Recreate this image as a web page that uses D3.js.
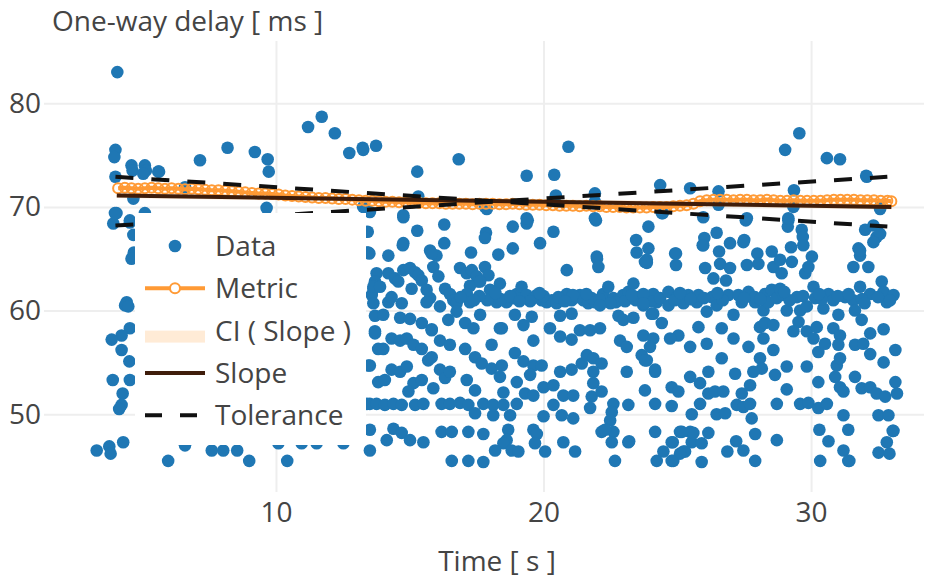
<!DOCTYPE html>
<html>
<head>
<meta charset="utf-8">
<script src="https://cdn.jsdelivr.net/npm/d3@7"></script>
<style>
  body { margin: 0; background: #fff; }
  text { font-family: "Open Sans", sans-serif; }
</style>
</head>
<body>
<div id="chart"></div>
<script>
// measured delay samples [time s, delay ms]
var samples = [
  [4.07,83.0],[4.0,75.5],[3.96,74.8],[4.0,72.9],[4.6,74.0],[4.64,73.5],[5.1,74.0],[5.14,73.5],[5.63,73.4],[7.16,74.5],
  [8.19,75.7],[9.21,75.3],[9.69,74.6],[9.73,73.4],[9.65,69.9],[4.67,70.8],[4.04,69.4],[3.92,68.4],[4.54,68.5],[4.67,67.3],
  [5.1,69.4],[4.69,65.6],[11.2,77.7],[11.71,78.7],[12.2,77.1],[12.74,75.2],[13.24,75.7],[13.26,75.5],[13.74,75.9],[13.43,67.6],
  [13.45,65.6],[13.26,70.0],[15.28,73.4],[16.83,74.6],[19.37,73.0],[20.4,73.1],[20.93,75.8],[20.46,71.1],[21.92,71.3],[24.36,72.1],
  [13.39,69.7],[13.33,67.6],[14.76,69.0],[15.28,67.7],[16.29,68.3],[17.81,70.0],[17.85,67.5],[17.81,67.0],[18.85,68.1],[19.37,68.4],
  [19.41,68.7],[19.87,66.5],[20.37,67.6],[21.96,68.7],[23.92,68.1],[23.46,66.8],[23.48,65.6],[23.92,66.0],[14.76,66.5],[14.74,66.3],
  [16.29,66.5],[15.76,65.8],[16.0,65.3],[17.29,65.6],[18.31,65.4],[18.85,66.0],[13.4,65.6],[14.2,65.3],[21.99,65.2],[23.86,64.9],
  [29.56,77.1],[29.03,75.5],[30.59,74.7],[31.08,74.6],[32.06,73.0],[25.48,71.8],[26.54,71.5],[29.36,71.6],[32.58,69.8],[24.42,69.4],
  [25.97,69.0],[27.56,68.7],[29.15,68.7],[29.13,68.1],[29.65,67.8],[29.69,67.1],[29.71,66.3],[32.02,67.8],[32.33,68.2],[32.45,67.1],
  [32.58,67.4],[26.47,67.5],[26.01,67.0],[25.95,66.3],[26.97,66.5],[27.5,66.8],[29.25,66.1],[24.92,65.5],[27.99,65.5],[28.53,65.7],
  [31.77,66.0],[31.83,65.3],[30.03,65.2],[5.04,73.2],[5.6,73.4],[6.6,71.9],[3.98,69.4],[4.54,68.7],[13.51,69.5],[14.76,69.2],
  [15.32,71.0],[17.88,69.8],[19.37,68.9],[21.92,70.5],[21.92,68.9],[24.46,69.4],[26.54,70.2],[27.6,68.9],[29.34,70.0],[29.15,68.9],
  [32.08,72.9],[32.58,70.0],
  [4.67,65.3],[4.6,65.0],[4.42,60.8],[4.36,60.5],[4.48,60.4],[4.54,58.3],[4.23,57.6],[3.86,57.2],[4.23,56.2],[4.52,55.1],
  [3.9,53.3],[4.54,53.3],[4.27,52.0],[4.23,50.9],[4.14,50.5],[3.3,46.5],[3.77,46.9],[3.82,46.2],[4.29,47.3],[5.97,45.5],
  [6.6,47.0],[7.6,46.5],[8.03,46.5],[8.55,46.5],[9.0,45.5],[10.42,45.5],[10.09,47.2],[10.96,47.2],[11.52,47.2],[12.52,47.2],
  [6.2,62.0],[7.4,58.5],[8.8,55.0],[10.5,60.5],[11.8,52.0],[12.4,63.5],
  [13.49,65.5],[13.76,63.6],[13.7,62.8],[13.64,62.1],[13.58,61.5],[13.64,60.7],[13.7,59.5],[13.7,58.0],[13.82,56.3],[13.51,54.7],
  [13.82,53.1],[13.51,51.0],[13.51,48.5],[13.51,46.5],
  [22.0,65.0],[22.05,64.2],[23.86,64.6],[20.87,63.9],[13.64,62.3],[14.01,59.6],[14.2,63.6],[14.45,63.1],[14.57,62.8],[14.76,63.9],
  [15.01,64.1],[15.2,63.7],[15.32,63.4],[15.45,62.9],[15.82,65.5],[15.88,64.2],[16.07,63.3],[15.07,62.1],[15.63,62.0],[15.76,61.2],
  [15.63,60.8],[14.7,60.7],[14.2,60.8],[14.32,61.3],[13.89,62.3],[16.32,62.1],[16.5,61.6],[16.63,61.0],[16.75,60.7],[16.88,64.1],
  [17.13,63.6],[17.32,63.9],[17.5,63.3],[17.56,62.8],[17.25,62.4],[17.13,61.6],[17.25,60.8],[17.81,64.2],[17.94,63.4],[17.63,62.8],
  [18.0,62.0],[18.06,61.2],[18.25,60.8],[18.37,62.6],[18.62,60.8],[18.87,61.2],[19.0,61.6],[19.18,62.3],[19.37,61.5],[19.62,61.2],
  [19.75,61.5],[19.93,61.0],[20.12,60.8],[20.31,61.0],[20.49,60.7],[20.68,61.2],[20.87,61.6],[21.05,61.0],[21.24,61.3],[21.36,61.5],
  [21.49,61.0],[21.67,60.7],[21.92,60.8],[22.23,61.6],[22.42,62.3],[22.61,61.2],[22.8,61.0],[22.98,61.5],[23.17,61.8],[23.36,62.6],
  [23.54,61.3],[23.73,61.2],[23.92,61.3],[24.1,61.6],[24.23,60.8],[18.4,61.1],[18.75,61.4],[19.5,60.9],[20.0,61.4],[20.55,61.3],
  [21.1,61.5],[21.8,61.2],[22.1,61.1],[22.7,60.8],[23.05,60.9],[23.45,61.0],[17.9,61.0],[17.6,61.4],
  [18.2,61.7],[19.1,60.9],[19.85,61.7],[20.8,60.9],[21.6,61.6],[22.5,60.7],[23.3,61.5],[24.0,60.9],[16.9,61.3],[17.4,61.0],
  [22.11,60.5],[20.62,59.5],[21.05,59.7],[22.8,59.5],[22.98,59.1],[23.36,59.3],[23.73,60.5],[24.04,59.7],
  [14.64,59.3],[15.01,59.2],[15.45,58.8],[15.82,58.2],[16.13,60.4],[16.44,59.1],[16.75,59.9],[17.07,58.8],[17.38,58.3],[17.63,59.6],
  [18.37,58.3],[18.93,59.6],[19.25,58.6],[19.56,59.4],[19.62,57.1],[20.24,58.3],[20.62,57.5],[21.05,57.2],[21.36,58.1],[21.74,58.1],
  [22.11,58.3],[22.86,57.1],[23.11,56.5],[23.73,57.6],[24.1,57.3],[23.67,55.7],[23.86,55.2],
  [13.7,57.8],[14.01,56.3],[14.32,57.3],[14.64,57.1],[14.89,57.3],[15.14,56.7],[15.45,56.3],
  [15.82,58.1],[16.13,57.1],[16.5,56.7],[17.07,56.3],[17.44,55.5],[17.69,54.9],[18.06,56.7],[18.44,58.3],[18.93,55.9],[19.25,55.1],
  [19.62,54.7],[19.93,54.7],[19.5,53.8],
  [15.69,55.2],[15.82,55.5],[13.45,54.7],[14.32,54.3],[14.64,54.1],[14.89,54.6],[14.07,53.3],[15.14,53.0],[15.45,53.3],[14.95,52.2],
  [15.88,52.5],[16.13,54.3],[16.32,53.5],[16.5,54.1],[17.13,53.3],[17.44,52.3],[18.06,54.4],[18.44,54.7],[18.37,53.6],[19.0,53.1],
  [18.5,52.1],[19.31,52.0],[19.62,51.8],[20.0,52.6],[20.37,52.8],[20.62,54.1],[21.05,54.3],[20.74,51.8],[21.11,51.8],[21.43,54.9],
  [21.62,55.7],[21.86,55.4],[22.17,54.9],[21.86,54.1],[21.86,53.0],[21.8,51.7],[22.17,52.2],[22.61,51.0],[22.55,50.2],[22.49,49.4],
  [22.61,48.3],[23.11,54.1],[23.79,52.3],[24.17,54.1],[23.17,50.9],[24.17,51.0],
  [13.4,51.0],[13.76,51.0],[14.07,50.9],[14.39,51.0],[14.7,50.9],[15.2,50.9],[15.51,51.0],[16.19,51.0],[16.5,51.0],[16.88,51.1],
  [17.19,50.9],[17.75,51.0],[18.12,50.9],[18.5,50.9],[19.0,51.0],
  [17.44,50.1],[18.12,49.9],[18.75,49.9],[20.0,49.8],[20.37,50.9],[20.68,49.9],[21.11,49.6],[21.74,50.6],
  [14.39,48.6],[14.7,48.2],[15.01,47.5],[15.51,47.3],[14.14,47.5],[16.19,48.3],[16.57,48.3],[17.19,48.3],[17.75,48.1],[18.68,48.5],
  [18.62,47.5],[18.5,47.2],[18.81,46.5],[19.06,46.4],[18.19,46.5],[19.62,48.5],[19.75,48.1],[19.68,47.2],[20.06,46.4],[20.74,47.3],
  [21.18,46.4],[22.17,48.3],[22.55,47.3],[23.17,47.3],[22.67,45.5],[24.17,48.3],[24.23,45.5],[16.57,45.5],[17.19,45.5],[17.75,45.4],
  [22.3,48.5],[23.2,47.4],[24.83,47.3],[24.48,46.4],[24.85,45.5],[25.1,48.3],[25.48,48.3],[25.23,46.4],[25.54,47.3],[25.91,47.2],
  [26.16,48.2],[25.91,45.4],[26.87,46.4],[27.2,47.4],[27.47,46.5],[27.91,48.1],[27.91,45.5],[28.72,47.5],[30.31,48.5],[30.65,47.4],
  [30.34,45.5],[31.39,48.5],[31.21,46.5],[31.43,45.5],[33.05,48.4],[32.83,47.3],[32.52,46.3],[32.93,46.2],
  [25.97,66.3],[27.47,66.6],[23.79,64.7],[24.95,65.5],[24.95,64.4],[26.56,65.7],[26.04,64.1],[26.6,64.5],[26.97,64.1],[26.35,63.1],
  [26.82,62.9],[27.6,64.4],[28.03,64.5],[28.59,64.2],[28.84,64.9],[28.9,63.6],[29.28,64.7],[29.78,63.6],[29.9,64.2],[31.58,64.2],
  [31.83,65.8],[32.14,64.2],[32.33,66.6],[32.64,62.8],
  [23.73,61.6],[23.73,60.7],[24.1,59.7],[24.36,61.2],[24.67,61.8],[24.67,60.5],[24.98,61.3],[25.23,60.7],[25.41,61.5],[25.73,60.8],
  [25.79,61.5],[26.1,59.9],[26.29,61.3],[26.47,60.5],[26.91,61.5],[27.1,59.6],[27.28,61.5],[27.41,60.8],[27.66,61.8],[27.91,60.8],
  [28.22,60.0],[28.28,61.6],[28.4,60.8],[28.53,62.0],[28.72,61.2],[28.84,62.1],[28.96,61.5],[29.09,60.0],[29.47,61.3],[29.59,60.0],
  [29.84,60.4],[30.09,62.3],[30.15,61.2],[30.46,60.2],[30.65,61.6],[30.83,61.0],[31.02,59.6],[31.27,61.3],[31.58,61.0],[31.64,60.0],
  [31.83,62.3],[32.21,61.6],[32.71,61.8],[32.83,60.8],[33.08,61.5],[24.9,61.0],[25.5,61.1],[26.0,61.2],[26.7,61.0],[27.9,61.3],
  [28.1,61.1],[29.2,61.0],[29.7,61.4],[30.4,61.1],[31.0,61.4],[31.9,61.1],[32.5,61.3],
  [25.1,61.7],[26.5,61.7],[27.5,61.2],[29.0,61.8],[30.3,61.6],[31.4,61.6],[32.0,60.7],[32.95,61.0],
  [24.42,58.8],[25.79,58.4],[26.66,58.3],[27.1,57.3],[26.1,56.8],[25.48,56.5],[25.04,57.6],[24.73,57.3],[23.98,56.5],[27.66,56.5],
  [28.09,58.4],[28.28,58.8],[28.59,58.6],[28.22,57.3],[28.59,56.2],[28.09,55.4],[29.53,58.9],[29.34,58.0],[29.84,58.0],[30.21,58.4],
  [30.09,57.3],[30.27,56.0],[30.83,58.3],[31.08,57.6],[31.02,56.7],[30.52,56.8],[31.64,56.7],[31.95,56.8],[31.89,59.1],[32.21,57.8],
  [32.71,58.2],[33.15,56.2],[32.21,55.8],[32.71,55.0],[30.96,54.7],[31.08,55.4],[30.9,53.6],[31.08,52.6],[31.21,52.2],[31.64,53.6],
  [31.89,52.5],[32.21,52.6],[32.45,52.0],[32.77,51.7],[33.15,53.1],[33.21,52.0],[30.27,53.1],[29.84,54.6],[29.09,54.6],[28.65,53.8],
  [29.09,52.4],[28.16,54.4],[27.84,54.1],[27.72,52.8],[27.41,52.0],[27.16,53.9],[26.66,55.4],[26.16,54.1],[25.85,53.0],[25.48,53.6],
  [24.79,52.6],[25.04,52.2],[24.17,54.3],[23.79,55.2],[24.79,50.8],[25.85,51.0],[25.54,50.0],[26.16,52.0],[26.41,52.2],[26.72,52.2],
  [26.47,50.0],[26.79,50.1],[27.22,50.9],[27.47,50.7],[27.72,51.0],[27.78,49.6],[28.72,51.0],[29.59,51.0],[29.9,51.1],[30.27,50.6],
  [30.59,51.0],[31.21,49.9],[32.52,49.9],[32.89,49.9],[33.08,48.4],[31.39,45.5],[25.6,48.2],[25.17,48.3],[25.29,46.4],[25.1,46.2],
  [24.79,47.3],[24.79,45.5]
];

// running metric (circle-open markers on a line)
var metricTime = [4.1,4.35,4.6,4.85,5.1,5.35,5.6,5.85,6.1,6.35,6.6,6.85,7.1,7.35,7.6,7.85,8.1,8.35,8.6,8.85,
  9.1,9.35,9.6,9.85,10.1,10.35,10.6,10.85,11.1,11.35,11.6,11.85,12.1,12.35,12.6,12.85,13.1,13.35,13.6,13.85,
  14.1,14.35,14.6,14.85,15.1,15.35,15.6,15.85,16.1,16.35,16.6,16.85,17.1,17.35,17.6,17.85,18.1,18.35,18.6,18.85,
  19.1,19.35,19.6,19.85,20.1,20.35,20.6,20.85,21.1,21.35,21.6,21.85,22.1,22.35,22.6,22.85,23.1,23.35,23.6,23.85,
  24.1,24.35,24.6,24.85,25.1,25.35,25.6,25.85,26.1,26.35,26.6,26.85,27.1,27.35,27.6,27.85,28.1,28.35,28.6,28.85,
  29.1,29.35,29.6,29.85,30.1,30.35,30.6,30.85,31.1,31.35,31.6,31.85,32.1,32.35,32.6,32.85,33.0];
var metricValue = [71.8,71.85,71.8,71.75,71.8,71.85,71.8,71.75,71.8,71.75,71.7,71.75,71.7,71.65,71.6,71.6,71.55,71.5,71.45,71.4,
  71.35,71.3,71.3,71.25,71.2,71.1,71.05,71.0,70.95,70.9,70.85,70.85,70.8,70.75,70.75,70.7,70.65,70.6,70.6,70.55,
  70.5,70.5,70.45,70.45,70.4,70.4,70.35,70.35,70.35,70.3,70.3,70.3,70.3,70.25,70.3,70.3,70.3,70.25,70.25,70.3,
  70.25,70.2,70.2,70.2,70.15,70.15,70.1,70.1,70.1,70.05,70.1,70.05,70.05,70.0,70.0,70.0,69.95,69.95,69.95,69.95,
  70.0,70.0,70.0,70.05,70.1,70.15,70.3,70.55,70.65,70.7,70.7,70.7,70.65,70.7,70.7,70.65,70.65,70.7,70.65,70.6,
  70.6,70.65,70.6,70.6,70.6,70.6,70.65,70.7,70.7,70.7,70.7,70.65,70.65,70.65,70.6,70.6,70.55];

var slopeTime = [4.05, 33.0];
var slopeValue = [71.1, 70.0];
var ciUpper = [71.35, 70.25];
var ciLower = [70.85, 69.75];
var toleranceTime = [4.0, 32.85];
var toleranceA = [72.9, 68.1];
var toleranceB = [68.2, 72.9];

var xTicks = [10, 20, 30];
var yTicks = [50, 60, 70, 80];
var legendLabels = ["Data", "Metric", "CI ( Slope )", "Slope", "Tolerance"];

var svgWidth = 938;
var svgHeight = 581;
var margin = {top: 41, right: 14, bottom: 89, left: 44};
var width = svgWidth - margin.left - margin.right;
var height = svgHeight - margin.top - margin.bottom;

var blue = "#1f77b4", orange = "#ff9a35", brown = "#3f1d0b", peach = "rgba(255,153,51,0.2)";
var fontSize = 28;

var svg = d3.select("#chart").append("svg")
  .attr("width", svgWidth)
  .attr("height", svgHeight);

var chartGroup = svg.append("g")
  .attr("transform", `translate(${margin.left}, ${margin.top})`);

var x = d3.scaleLinear().domain([1.33, 34.22]).range([0, width]);
var y = d3.scaleLinear().domain([42.5, 86.0]).range([height, 0]);

// axes with grid lines
var gx = chartGroup.append("g")
  .attr("transform", `translate(0, ${height})`)
  .call(d3.axisBottom(x).tickValues(xTicks).tickSize(-height).tickPadding(10));
var gy = chartGroup.append("g")
  .call(d3.axisLeft(y).tickValues(yTicks).tickSize(-width).tickPadding(3));
[gx, gy].forEach(function(g) {
  g.select(".domain").remove();
  g.attr("color", "#444").attr("font-size", fontSize).attr("font-family", "'Open Sans', sans-serif");
  g.selectAll(".tick line").attr("stroke", "#eee").attr("stroke-width", 2);
});

chartGroup.append("clipPath").attr("id", "plotClip")
  .append("rect").attr("width", width).attr("height", height);
var plot = chartGroup.append("g").attr("clip-path", "url(#plotClip)");

// data points
plot.selectAll("circle.pt").data(samples).enter()
  .append("circle")
  .attr("class", "pt")
  .attr("cx", d => x(d[0]))
  .attr("cy", d => y(d[1]))
  .attr("r", 6.3)
  .attr("fill", blue);

// CI band around slope
var band = d3.area()
  .x((d, i) => x(slopeTime[i]))
  .y0((d, i) => y(ciLower[i]))
  .y1((d, i) => y(ciUpper[i]));
plot.append("path").datum(slopeTime).attr("d", band).attr("fill", peach);

// metric
var metricLine = d3.line().x((d, i) => x(metricTime[i])).y(d => y(d));
plot.append("path").datum(metricValue)
  .attr("d", metricLine)
  .attr("fill", "none").attr("stroke", orange).attr("stroke-width", 4);
plot.selectAll("circle.m").data(metricValue).enter()
  .append("circle").attr("class", "m")
  .attr("cx", (d, i) => x(metricTime[i]))
  .attr("cy", d => y(d))
  .attr("r", 5)
  .attr("fill", "none").attr("stroke", orange).attr("stroke-width", 2);

// slope
var twoPoint = function(tArr) {
  return d3.line().x((d, i) => x(tArr[i])).y(d => y(d));
};
plot.append("path").datum(slopeValue)
  .attr("d", twoPoint(slopeTime))
  .attr("stroke", brown).attr("stroke-width", 4).attr("fill", "none");

// tolerance
[toleranceA, toleranceB].forEach(function(tv) {
  plot.append("path").datum(tv)
    .attr("d", twoPoint(toleranceTime))
    .attr("stroke", "#111").attr("stroke-width", 4)
    .attr("stroke-dasharray", "18,18").attr("fill", "none");
});

// titles
svg.append("text")
  .attr("x", 52).attr("y", 31)
  .attr("font-size", fontSize).attr("fill", "#444")
  .text("One-way delay [ ms ]");
svg.append("text")
  .attr("x", 497).attr("y", 571)
  .attr("text-anchor", "middle")
  .attr("font-size", fontSize).attr("fill", "#444")
  .text("Time [ s ]");

// legend
var legend = svg.append("g").attr("transform", "translate(135, 213)");
legend.append("rect").attr("width", 231).attr("height", 232).attr("fill", "#fff");
var rowY = function(i) { return 33 + i * 42.3; };
legend.append("circle").attr("cx", 40).attr("cy", rowY(0)).attr("r", 6.3).attr("fill", blue);
legend.append("line").attr("x1", 10).attr("x2", 70).attr("y1", rowY(1)).attr("y2", rowY(1))
  .attr("stroke", orange).attr("stroke-width", 4);
legend.append("circle").attr("cx", 40).attr("cy", rowY(1)).attr("r", 5)
  .attr("fill", "#fff").attr("stroke", orange).attr("stroke-width", 2);
legend.append("rect").attr("x", 10).attr("y", rowY(2)).attr("width", 60).attr("height", 12)
  .attr("fill", peach);
legend.append("line").attr("x1", 10).attr("x2", 70).attr("y1", rowY(3)).attr("y2", rowY(3))
  .attr("stroke", brown).attr("stroke-width", 4);
legend.append("line").attr("x1", 10).attr("x2", 70).attr("y1", rowY(4)).attr("y2", rowY(4))
  .attr("stroke", "#111").attr("stroke-width", 4).attr("stroke-dasharray", "17,18");
legend.selectAll("text.lg").data(legendLabels).enter()
  .append("text").attr("class", "lg")
  .attr("x", 80).attr("y", (d, i) => rowY(i))
  .attr("dy", "0.36em")
  .attr("font-size", fontSize).attr("fill", "#444")
  .text(d => d);
</script>
</body>
</html>
